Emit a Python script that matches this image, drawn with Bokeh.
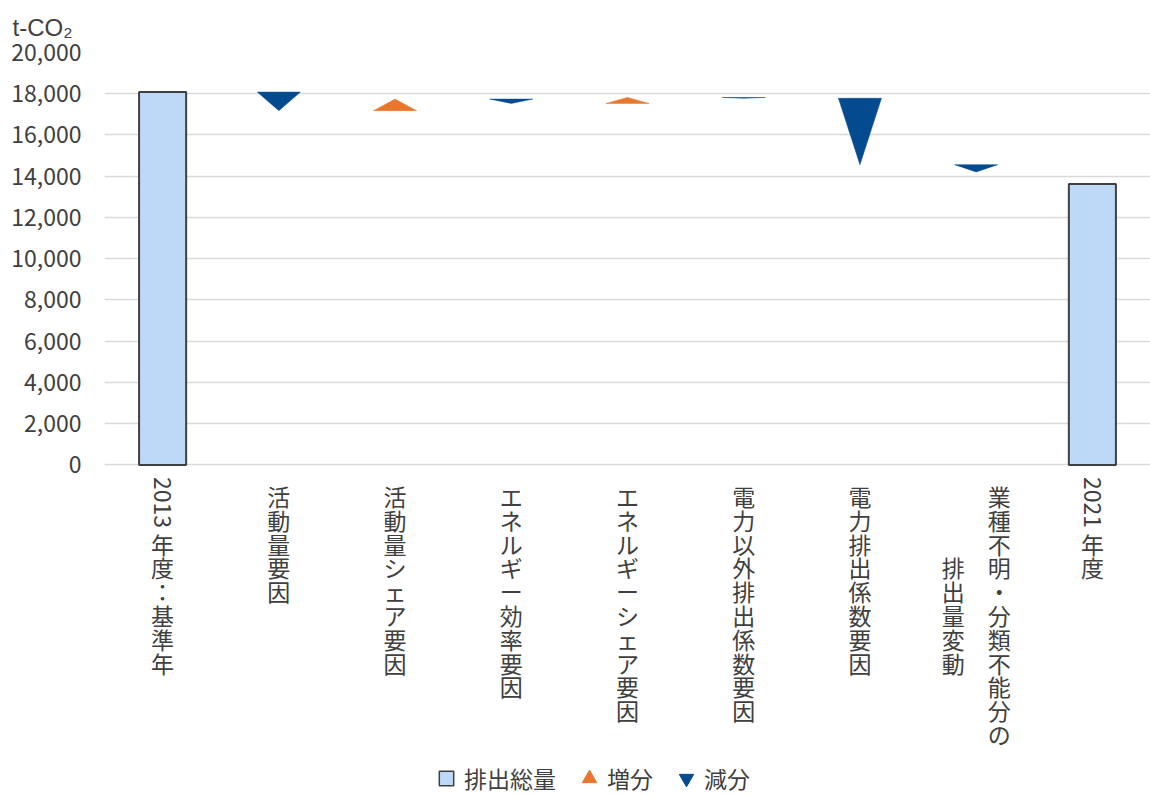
import math
from bokeh.plotting import figure
from bokeh.core.properties import value
from bokeh.models import (Range1d, FactorRange, FixedTicker, NumeralTickFormatter,
                          Legend, LegendItem, ColumnDataSource)
from bokeh.embed import file_html
from bokeh.resources import INLINE

# ---- data ----
categories = ["2013年度：基準年", "活動量要因", "活動量シェア要因", "エネルギー効率要因",
              "エネルギーシェア要因", "電力以外排出係数要因", "電力排出係数要因",
              "業種不明・分類不能分の排出量変動", "2021年度"]
base_value = 18080          # 2013年度 排出総量
final_value = 13620         # 2021年度 排出総量
factor_deltas = [-900, 560, -210, 290, -40, -3220, -350]   # 要因別 増減
y_ticks = [0, 2000, 4000, 6000, 8000, 10000, 12000, 14000, 16000, 18000, 20000]
legend_labels = ["排出総量", "増分", "減分"]

FONT = "Noto Sans CJK JP"
TXT = "#404040"
BAR_FILL = "#BDD9F7"
UP = "#E8772E"
DOWN = "#044A8E"

W, H = 1150, 796
FRAME_TOP, ZERO_PX = 51, 464
# frame reaches the bottom of the canvas so that the vertical category labels and legend fit
y_start = -20000 * (H - ZERO_PX) / (ZERO_PX - FRAME_TOP)

p = figure(x_range=FactorRange(factors=categories, range_padding=0),
           y_range=Range1d(y_start, 20000),
           width=W, height=H, output_backend="svg", toolbar_location=None,
           min_border_left=104, min_border_right=0, min_border_top=FRAME_TOP,
           min_border_bottom=0, title="t-CO₂")
p.outline_line_color = None
p.background_fill_color = "white"

# title
p.title.text_font = "Liberation Sans"
p.title.text_font_size = "24px"
p.title.text_font_style = "normal"
p.title.text_color = TXT
p.title.align = "left"
p.title.vertical_align = "bottom"
p.title.offset = -92
p.title.standoff = 23

# grid / axes
p.xaxis.visible = False
p.xgrid.visible = False
p.ygrid.ticker = FixedTicker(ticks=y_ticks)
p.ygrid.grid_line_color = "#D9D9D9"
p.ygrid.grid_line_width = 1.5

p.yaxis.ticker = FixedTicker(ticks=y_ticks)
p.yaxis.formatter = NumeralTickFormatter(format="0,0")
p.yaxis.axis_line_color = None
p.yaxis.major_tick_line_color = None
p.yaxis.minor_tick_line_color = None
p.yaxis.major_tick_out = 0
p.yaxis.major_label_standoff = 23
p.yaxis.major_label_text_font = FONT
p.yaxis.major_label_text_font_size = "23px"
p.yaxis.major_label_text_color = TXT

# totals bars
bar_src = ColumnDataSource(dict(x=[categories[0], categories[-1]], top=[base_value, final_value]))
p.vbar(x="x", top="top", bottom=0, width=0.405, source=bar_src,
       fill_color=BAR_FILL, line_color=TXT, line_width=2)

# triangles for factor changes (base at previous level, apex at new level)
w = 0.37
xs, ys, cols = [], [], []
level = base_value
for i, d in enumerate(factor_deltas):
    c = i + 1 + 0.5
    start = level
    end = level + d
    xs.append([c - w / 2, c + w / 2, c])
    ys.append([start, start, end])
    cols.append(UP if d > 0 else DOWN)
    level = end
p.patches(xs=xs, ys=ys, fill_color=cols, line_color=cols, line_width=0.5)


# vertical (stacked) category labels
def vertical_label(cat):
    if cat[:4].isdigit():
        return "\n".join(["\u3000", "\u3000"] + list(cat[4:]))
    if cat.startswith("業種"):
        col1 = list("業種不明・分類不能分の")
        col2 = list("排出量変動")
        off = (len(col1) - len(col2)) // 2
        rows = []
        for k, ch in enumerate(col1):
            c2 = col2[k - off] if 0 <= k - off < len(col2) else "\u3000"
            rows.append(c2 + "\u3000" + ch)
        return "\n".join(rows)
    return "\n".join(list(cat))


lab_src = ColumnDataSource(dict(x=categories, y=[0] * len(categories),
                                text=[vertical_label(c) for c in categories]))
p.text(x="x", y="y", text="text", source=lab_src, y_offset=14,
       text_align="center", text_baseline="top", text_line_height=0.7,
       text_font=value(FONT), text_font_size="23px", text_color=TXT)

# rotated year digits
yr_src = ColumnDataSource(dict(x=[categories[0], categories[-1]], y=[0, 0],
                               text=[categories[0][:4], categories[-1][:4]]))
p.text(x="x", y="y", text="text", source=yr_src, angle=-math.pi / 2, y_offset=12,
       text_align="left", text_baseline="middle",
       text_font=value(FONT), text_font_size="23px", text_color=TXT)

# legend proxies (no visible data)
nan = float("nan")
r_sq = p.scatter(x=[nan], y=[nan], marker="square", size=15, fill_color=BAR_FILL, line_color=TXT, line_width=1.5)
r_up = p.scatter(x=[nan], y=[nan], marker="triangle", size=15, fill_color=UP, line_color=UP)
r_dn = p.scatter(x=[nan], y=[nan], marker="inverted_triangle", size=15, fill_color=DOWN, line_color=DOWN)
legend = Legend(items=[LegendItem(label=legend_labels[0], renderers=[r_sq]),
                       LegendItem(label=legend_labels[1], renderers=[r_up]),
                       LegendItem(label=legend_labels[2], renderers=[r_dn])],
                orientation="horizontal", location=(324, 0),
                glyph_width=36, glyph_height=36, label_standoff=-8, spacing=15,
                padding=0, margin=0, border_line_color=None, background_fill_alpha=0,
                label_text_font=FONT, label_text_font_size="23px", label_text_color=TXT)
p.add_layout(legend, "center")

open("out.html", "w").write(file_html(p, INLINE))
